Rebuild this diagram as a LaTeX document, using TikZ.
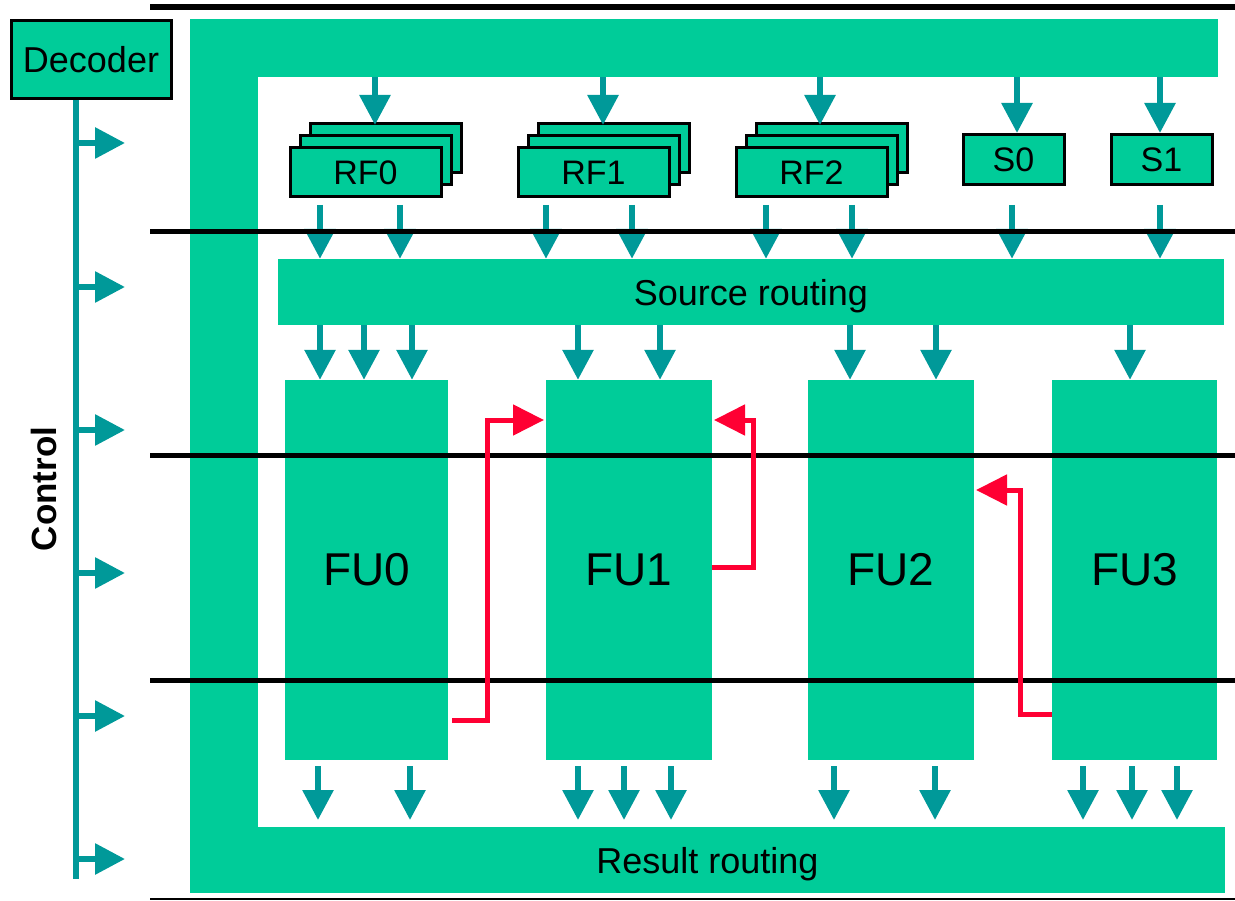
\documentclass[tikz,border=0pt]{standalone}
\usepackage{fontspec}
\setmainfont{Liberation Sans}
\usetikzlibrary{arrows.meta}
\definecolor{cgreen}{HTML}{00CC99}
\definecolor{cteal}{HTML}{009999}
\definecolor{cred}{HTML}{FF0033}
\begin{document}
\begin{tikzpicture}[x=1pt,y=-1pt,
  bar/.style={fill=cgreen, draw=none, inner sep=0pt, text depth=0pt, font=\fontsize{36}{40}\selectfont},
  box/.style={fill=cgreen, draw=black, line width=3pt, inner sep=0pt, font=\fontsize{34}{38}\selectfont},
  fubox/.style={fill=cgreen, draw=none, inner sep=0pt, minimum width=166pt, minimum height=380pt, font=\fontsize{46}{50}\selectfont},
  tarrow/.style={draw=cteal, line width=6pt, -{Triangle[length=30pt,width=30pt]}},
  rarrow/.style={draw=cred, line width=5pt, line join=miter, -{Triangle[length=31pt,width=30pt]}},
  bline/.style={draw=black, line width=5pt},
]
\useasboundingbox (0,0) rectangle (1235,901);
% green frame
\node[bar, minimum width=1028pt, minimum height=58pt] (topbar) at (704,48) {};
\node[bar, minimum width=68pt, minimum height=874pt] (leftbar) at (224,456) {};
\node[bar, minimum width=1035pt, minimum height=66pt] (res) at (707.5,860) {Result routing};
\node[bar, minimum width=946pt, minimum height=66pt] (src) at (751,292) {Source routing};
% decoder
\node[box, minimum width=160pt, minimum height=78pt, font=\fontsize{36}{40}\selectfont] (dec) at (91,59.5) {Decoder};
% RF stacks
\foreach \n/\cx in {0/365.5, 1/593.5, 2/811.5} {
  \node[box, minimum width=151pt, minimum height=49pt] (rf\n c) at (\cx+20,148) {};
  \node[box, minimum width=151pt, minimum height=49pt] (rf\n b) at (\cx+10,160) {};
  \node[box, minimum width=151pt, minimum height=49pt] (rf\n) at (\cx,172.5) {RF\n};
}
\node[box, minimum width=101pt, minimum height=50pt] (s0) at (1013.5,160) {S0};
\node[box, minimum width=101pt, minimum height=50pt] (s1) at (1161.5,160) {S1};
% FUs
\node[fubox, minimum width=163pt] (fu0) at (366.5,570) {FU0};
\node[fubox] (fu1) at (629,570) {FU1};
\node[fubox] (fu2) at (891,570) {FU2};
\node[fubox, minimum width=165pt] (fu3) at (1134.5,570) {FU3};
% control
\draw[draw=cteal, line width=6pt] (76,0 |- dec.south) -- (76,879) coordinate (cend);
\foreach \y in {143,287,430,573,716,859} {
  \draw[tarrow] (76,\y) -- (125,\y);
}
\node[rotate=90, font=\fontsize{35}{38}\selectfont\bfseries] (ctl) at (44,489) {Control};
% arrows into RF / S
\draw[tarrow] (375,0 |- topbar.south) -- (375,125);
\draw[tarrow] (603,0 |- topbar.south) -- (603,125);
\draw[tarrow] (820,0 |- topbar.south) -- (820,125);
\draw[tarrow] (1017,0 |- topbar.south) -- (1017,133);
\draw[tarrow] (1160,0 |- topbar.south) -- (1160,133);
% RF -> source routing
\foreach \x in {320,400,546,632,766,852,1012,1160} {
  \draw[tarrow] (\x,205) -- (\x,0 |- src.north);
}
% source routing -> FU
\foreach \x in {320,364,412,578,660,850,936,1130} {
  \draw[tarrow] (\x,0 |- src.south) -- (\x,0 |- fu0.north);
}
% FU -> result routing
\foreach \x in {318,410,578,624,671,834,935,1083,1132,1177} {
  \draw[tarrow] (\x,766) -- (\x,820);
}
% black lines
\draw[draw=black, line width=6pt] (150,7) -- (1235,7);
\draw[bline] (150,232) -- (1235,232);
\draw[bline] (150,455) -- (1235,455);
\draw[bline] (150,680) -- (1235,680);
\draw[draw=black, line width=2pt] (150,899) -- (1235,899);
% red bypass arrows
\draw[rarrow] (452,720) -- (487,720) |- (544,420);
\draw[rarrow] (fu1.east |- 0,567) -- (753,567) |- (714,420);
\draw[rarrow] (fu3.west |- 0,714) -- (1020,714) |- (976,490);
\end{tikzpicture}
\end{document}
